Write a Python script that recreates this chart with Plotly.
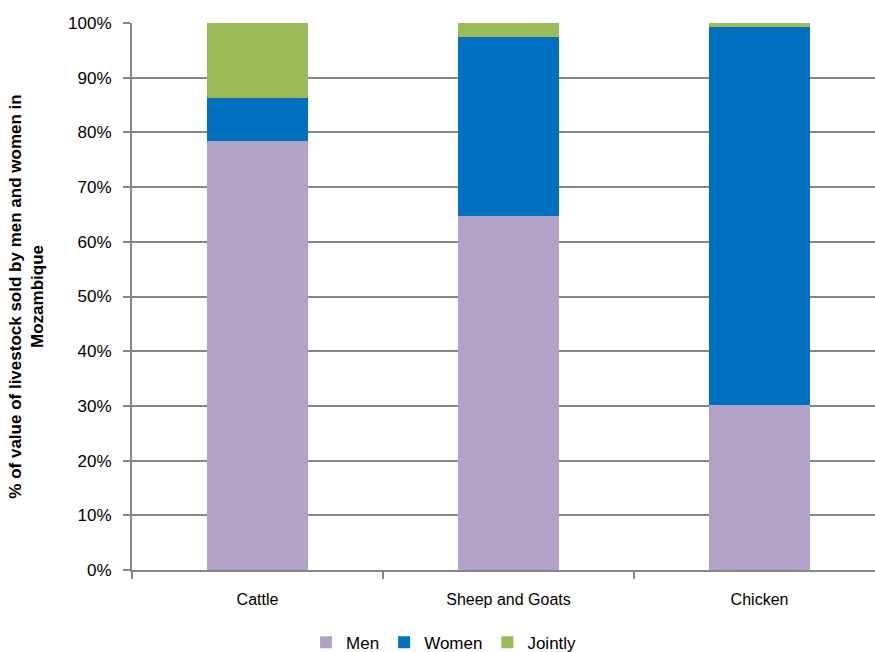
import plotly.graph_objects as go

categories = ["Cattle", "Sheep and Goats", "Chicken"]
men = [78.4, 64.8, 30.1]
women = [7.9, 32.7, 69.1]
jointly = [13.7, 2.5, 0.8]
series = [("Men", men, "#B3A2C7"), ("Women", women, "#0070C0"), ("Jointly", jointly, "#9BBB59")]

fig = go.Figure()
for name, vals, color in series:
    fig.add_trace(go.Bar(x=categories, y=vals, name=name, marker_color=color,
                         marker_line_width=0, width=0.4))

fig.update_layout(
    barmode="stack",
    width=875, height=652,
    paper_bgcolor="white", plot_bgcolor="white",
    margin=dict(l=132, r=0, t=23, b=82, autoexpand=False),
    font=dict(family="Liberation Sans", size=16, color="black"),
    legend=dict(orientation="h", x=0.42, xanchor="center", y=-0.1, yanchor="top",
                font=dict(size=17), itemwidth=30, traceorder="normal"),
    bargap=0.6,
)
fig.update_xaxes(range=[-0.5, 2.46], tickson="boundaries", ticks="outside", ticklen=7,
                 tickcolor="#868686", tickwidth=2, showline=True, linecolor="#868686",
                 linewidth=2, showgrid=False, tickfont=dict(size=16), ticklabelstandoff=14)
fig.update_yaxes(range=[0, 100], dtick=10, ticksuffix="%", ticks="outside", ticklen=7,
                 tickcolor="#868686", tickwidth=2, showline=True, linecolor="#868686",
                 linewidth=2, gridcolor="#868686", gridwidth=2, tickfont=dict(size=17),
                 ticklabelstandoff=8,
                 title=dict(text="<b>% of value of livestock sold by men and women in<br>Mozambique</b>",
                            font=dict(size=17), standoff=20))
fig.write_html("out.html")
